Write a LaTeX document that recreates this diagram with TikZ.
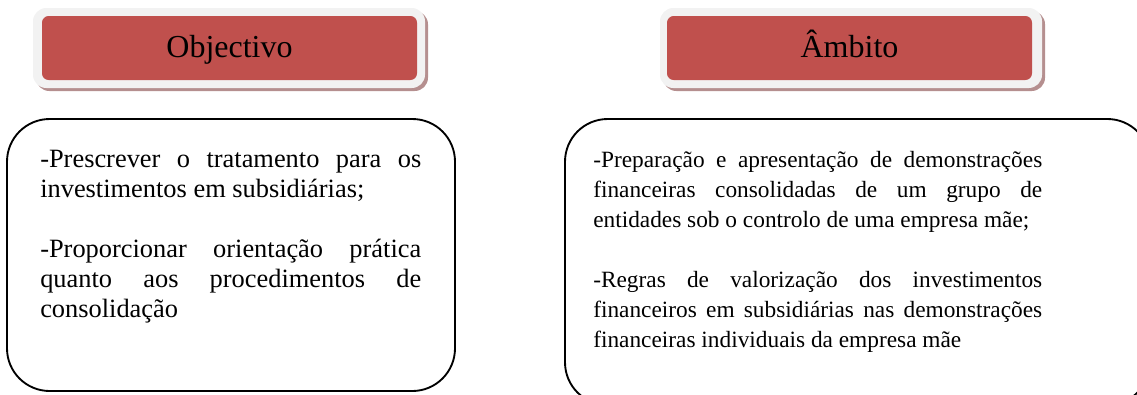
\documentclass[tikz,border=0pt]{standalone}
\usepackage{fontspec}
\setmainfont{Liberation Serif}
\definecolor{hdrred}{RGB}{192,80,77}
\definecolor{hdrrim}{RGB}{242,242,242}
\definecolor{hdrshadow}{RGB}{181,143,143}
\begin{document}
\begin{tikzpicture}[x=0.75pt,y=-0.75pt,
  rim/.style={fill=hdrrim, draw=none, rounded corners=10pt},
  shade/.style={fill=hdrshadow, draw=none, rounded corners=10pt},
  redbox/.style={fill=hdrred, draw=none, rounded corners=5pt},
  hdrtext/.style={font=\fontsize{24}{28}\selectfont, anchor=base, inner sep=0pt},
  frame/.style={draw=black, line width=1.4pt, rounded corners=32pt},
  bodyline/.style={font=\fontsize{19.8}{24}\selectfont, anchor=base west, inner sep=0pt},
  bodylineR/.style={font=\fontsize{17.5}{22}\selectfont, anchor=base west, inner sep=0pt}]
\useasboundingbox (0,0) rectangle (1137,394);
\clip (0,0) rectangle (1137,394);
% left header
\fill[shade] (36,11) rectangle (428,91);
\fill[rim] (33,8) rectangle (425,88);
\fill[redbox] (42,16) rectangle (417,80);
\node[hdrtext] (objt) at (229.5,57) {Objectivo};
% right header
\fill[shade] (663,11) rectangle (1045,91);
\fill[rim] (660,8) rectangle (1042,88);
\fill[redbox] (667,16) rectangle (1032,80);
\node[hdrtext] (ambt) at (849.5,57) {Âmbito};
% left body
\draw[frame] (7,119) rectangle (455,391);
\node[bodyline] (l1) at (40,167) {\makebox[285.75pt][s]{-Prescrever o tratamento para os}};
\node[bodyline] (l2) at (40,197) {investimentos em subsidiárias;};
\node[bodyline] (l3) at (40,257) {\makebox[285.75pt][s]{-Proporcionar orientação prática}};
\node[bodyline] (l4) at (40,287) {\makebox[285.75pt][s]{quanto aos procedimentos de}};
\node[bodyline] (l5) at (40,317) {consolidação};
% right body
\draw[frame] (565,119) rectangle (1150,405);
\node[bodylineR] (r1) at (593,167) {\makebox[336.75pt][s]{-Preparação e apresentação de demonstrações}};
\node[bodylineR] (r2) at (593,197) {\makebox[336.75pt][s]{financeiras consolidadas de um grupo de}};
\node[bodylineR] (r3) at (593,227) {entidades sob o controlo de uma empresa mãe;};
\node[bodylineR] (r4) at (593,287) {\makebox[336.75pt][s]{-Regras de valorização dos investimentos}};
\node[bodylineR] (r5) at (593,317) {\makebox[336.75pt][s]{financeiros em subsidiárias nas demonstrações}};
\node[bodylineR] (r6) at (593,347) {financeiras individuais da empresa mãe};
\end{tikzpicture}
\end{document}
